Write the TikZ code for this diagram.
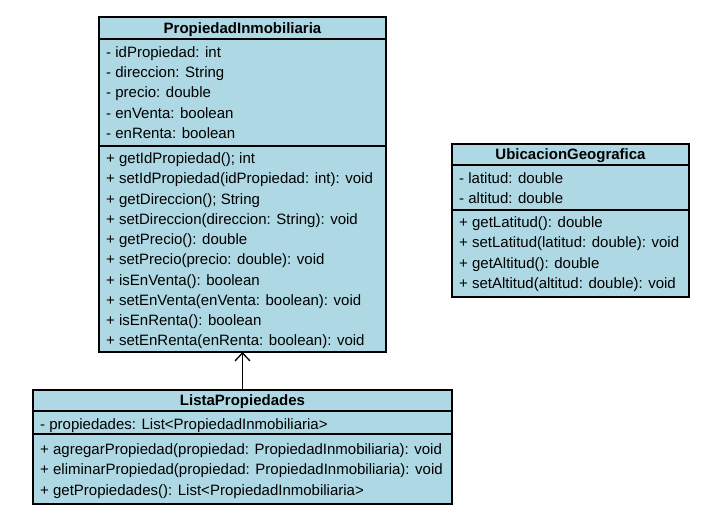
\documentclass[tikz,border=0pt]{standalone}
\usepackage{fontspec}
\setmainfont{Liberation Sans}
\usetikzlibrary{arrows.meta}

\definecolor{umlblue}{RGB}{173,216,228}

\begin{document}
\begin{tikzpicture}[x=1pt, y=-1pt,
        classbox/.style={draw=black, fill=umlblue, line width=1.3pt, inner sep=0pt, outer sep=0pt},
        sep/.style={line width=1.3pt},
        title/.style={anchor=base, inner sep=0pt, font=\fontsize{15}{17}\selectfont\bfseries},
        member/.style={anchor=base west, inner sep=0pt, font=\fontsize{15}{17}\selectfont}
    ]
    \useasboundingbox (0,0) rectangle (715,527);

    \def\dy{20.25}

    % PropiedadInmobiliaria
    \node[classbox, minimum width=287pt, minimum height=335pt, anchor=north west] (prop) at (99,17) {};
    \draw[sep] (prop.west |- 0,39) -- (prop.east |- 0,39);
    \draw[sep] (prop.west |- 0,146) -- (prop.east |- 0,146);
    \node[title] (propT) at (242.5,33.5) {PropiedadInmobiliaria};
    \foreach \t [count=\i from 0] in {{- idPropiedad: int}, {- direccion: String}, {- precio: double},
        {- enVenta: boolean}, {- enRenta: boolean}}{
        \node[member] (propA\i) at (106, {57.5+\dy*\i}) {\t};
    }
    \foreach \t [count=\i from 0] in {{+ getIdPropiedad(); int}, {+ setIdPropiedad(idPropiedad: int): void},
        {+ getDireccion(); String}, {+ setDireccion(direccion: String): void}, {+ getPrecio(): double},
        {+ setPrecio(precio: double): void}, {+ isEnVenta(): boolean}, {+ setEnVenta(enVenta: boolean): void},
        {+ isEnRenta(): boolean}, {+ setEnRenta(enRenta: boolean): void}}{
        \node[member] (propM\i) at (106, {163.5+\dy*\i}) {\t};
    }

    % UbicacionGeografica
    \node[classbox, minimum width=237pt, minimum height=153pt, anchor=north west] (ubic) at (452,144) {};
    \draw[sep] (ubic.west |- 0,165) -- (ubic.east |- 0,165);
    \draw[sep] (ubic.west |- 0,210) -- (ubic.east |- 0,210);
    \node[title] (ubicT) at (570.5,159.5) {UbicacionGeografica};
    \foreach \t [count=\i from 0] in {{- latitud: double}, {- altitud: double}}{
        \node[member] (ubicA\i) at (459, {183.5+\dy*\i}) {\t};
    }
    \foreach \t [count=\i from 0] in {{+ getLatitud(): double}, {+ setLatitud(latitud: double): void},
        {+ getAltitud(): double}, {+ setAltitud(altitud: double): void}}{
        \node[member] (ubicM\i) at (459, {227.5+20.33*\i}) {\t};
    }

    % ListaPropiedades
    \node[classbox, minimum width=419pt, minimum height=114pt, anchor=north west] (lista) at (33,390) {};
    \draw[sep] (lista.west |- 0,411) -- (lista.east |- 0,411);
    \draw[sep] (lista.west |- 0,434) -- (lista.east |- 0,434);
    \node[title] (listaT) at (242.5,405.5) {ListaPropiedades};
    \node[member] (listaA0) at (40,429.5) {- propiedades: List<PropiedadInmobiliaria>};
    \foreach \t [count=\i from 0] in {{+ agregarPropiedad(propiedad: PropiedadInmobiliaria): void},
        {+ eliminarPropiedad(propiedad: PropiedadInmobiliaria): void},
        {+ getPropiedades(): List<PropiedadInmobiliaria>}}{
        \node[member] (listaM\i) at (40, {454.5+\dy*\i}) {\t};
    }

    \draw[line width=1.3pt, -{Straight Barb[length=8pt, width=15pt]}] (lista.north) -- (prop.south);
\end{tikzpicture}
\end{document}
